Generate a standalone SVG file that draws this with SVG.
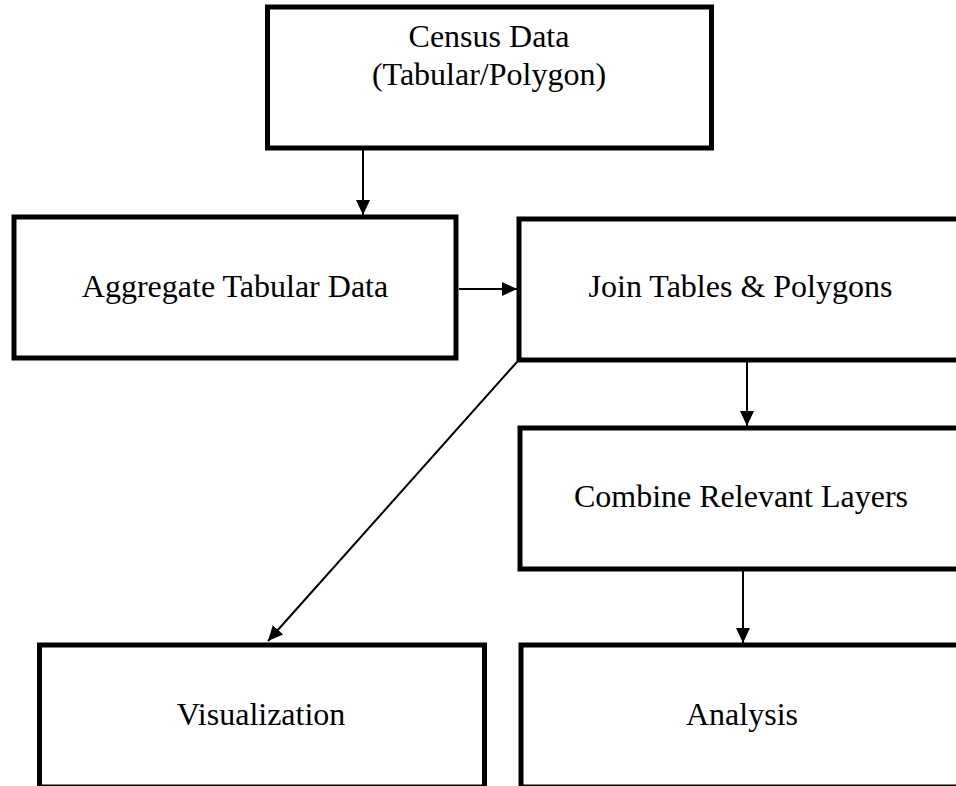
<svg xmlns="http://www.w3.org/2000/svg" width="956" height="786" viewBox="0 0 956 786">
  <style>
    .box { fill: #ffffff; stroke: #000000; stroke-width: 5; }
    .lbl { font-family: "Liberation Serif", "Times New Roman", serif; font-size: 32px; fill: #000000; text-anchor: middle; }
    .conn { stroke: #000000; stroke-width: 2; fill: none; }
  </style>
  <defs>
    <marker id="arrow" viewBox="0 0 15 14" refX="15" refY="7" markerWidth="15" markerHeight="14" markerUnits="userSpaceOnUse" orient="auto">
      <path d="M0,0 L15,7 L0,14 Z" fill="#000000"/>
    </marker>
  </defs>
  <rect x="0" y="0" width="956" height="786" fill="#ffffff"/>

  <g id="node-census">
    <rect class="box" x="267.5" y="7" width="444" height="141"/>
    <text class="lbl" x="489" y="47">Census Data</text>
    <text class="lbl" x="489" y="85">(Tabular/Polygon)</text>
  </g>
  <g id="node-aggregate">
    <rect class="box" x="14" y="217" width="442" height="141"/>
    <text class="lbl" x="235" y="297">Aggregate Tabular Data</text>
  </g>
  <g id="node-join">
    <rect class="box" x="519" y="219" width="460" height="141"/>
    <text class="lbl" x="740.5" y="297">Join Tables &amp; Polygons</text>
  </g>
  <g id="node-combine">
    <rect class="box" x="520" y="428" width="460" height="141"/>
    <text class="lbl" x="741" y="507">Combine Relevant Layers</text>
  </g>
  <g id="node-visualization">
    <rect class="box" x="39.5" y="645" width="445" height="142"/>
    <text class="lbl" x="261" y="725">Visualization</text>
  </g>
  <g id="node-analysis">
    <rect class="box" x="521" y="645" width="460" height="142"/>
    <text class="lbl" x="742" y="725">Analysis</text>
  </g>

  <g id="connectors">
    <line class="conn" x1="363" y1="150" x2="363" y2="215" marker-end="url(#arrow)"/>
    <line class="conn" x1="459" y1="289" x2="517" y2="289" marker-end="url(#arrow)"/>
    <line class="conn" x1="747" y1="362" x2="747" y2="426" marker-end="url(#arrow)"/>
    <line class="conn" x1="517" y1="362" x2="268" y2="641" marker-end="url(#arrow)"/>
    <line class="conn" x1="743" y1="571" x2="743" y2="643" marker-end="url(#arrow)"/>
  </g>
</svg>
